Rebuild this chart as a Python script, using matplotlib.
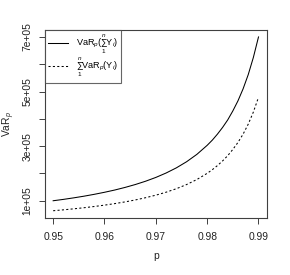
import numpy as np
import matplotlib
matplotlib.use('Agg')
import matplotlib.pyplot as plt

plt.rcParams['font.family'] = ['Liberation Sans', 'DejaVu Sans']
plt.rcParams['mathtext.fontset'] = 'custom'
plt.rcParams['mathtext.rm'] = 'Liberation Sans'
plt.rcParams['mathtext.it'] = 'Liberation Sans:italic'
plt.rcParams['mathtext.sf'] = 'Liberation Sans'

# values
p = [0.950, 0.952, 0.954, 0.956, 0.958, 0.960, 0.962, 0.964, 0.966, 0.968,
     0.970, 0.972, 0.974, 0.976, 0.978, 0.980, 0.981, 0.982, 0.983, 0.984,
     0.985, 0.986, 0.987, 0.988, 0.989, 0.990]
var_sum = [1.00, 1.05, 1.106, 1.167, 1.235, 1.31, 1.393, 1.488, 1.594, 1.715,
           1.854, 2.016, 2.205, 2.43, 2.70, 3.03, 3.22, 3.44, 3.685, 3.96,
           4.29, 4.66, 5.10, 5.62, 6.25, 7.00]
sum_var = [0.634, 0.667, 0.704, 0.744, 0.789, 0.839, 0.895, 0.958, 1.029, 1.111,
           1.204, 1.313, 1.441, 1.594, 1.778, 2.004, 2.137, 2.288, 2.458, 2.651,
           2.88, 3.137, 3.44, 3.806, 4.25, 4.79]

p = np.array(p)
var_sum = np.array(var_sum) * 1e5
sum_var = np.array(sum_var) * 1e5

x_ticks = [0.95, 0.96, 0.97, 0.98, 0.99]
y_ticks = [1e5, 2e5, 3e5, 4e5, 5e5, 6e5, 7e5]
y_labels = ['1e+05', '', '3e+05', '', '5e+05', '', '7e+05']

fig = plt.figure(figsize=(2.9, 2.75), dpi=100)
ax = fig.add_axes([0.155, 0.2084, 0.7647, 0.6825])

ax.plot(p, var_sum, color='black', lw=0.75,
        label=r'VaR$_p$($\sum_1^n$Y$_i$)')
ax.plot(p, sum_var, color='black', lw=0.75, linestyle=(0, (2, 2.2)),
        label=r'$\sum_1^n$VaR$_p$(Y$_i$)')

xr = p.max() - p.min()
yr = var_sum.max() - sum_var.min()
ax.set_xlim(p.min() - 0.04 * xr, p.max() + 0.04 * xr)
ax.set_ylim(sum_var.min() - 0.04 * yr, var_sum.max() + 0.04 * yr)

ax.set_xticks(x_ticks)
ax.set_xticklabels(['0.95', '0.96', '0.97', '0.98', '0.99'])
ax.set_yticks(y_ticks)
ax.set_yticklabels(y_labels, rotation=90, va='center')

for s in ax.spines.values():
    s.set_color('#404040')
    s.set_linewidth(0.8)
ax.tick_params(length=4, width=0.7, color='#404040', labelsize=7.4, labelcolor='#222222')
ax.tick_params(axis='x', pad=6)
ax.tick_params(axis='y', pad=5)

ax.set_xlabel('p', fontsize=7.4, color='#222222')
ax.xaxis.set_label_coords(0.5, -0.18)
ax.set_ylabel(r'VaR$_p$', fontsize=7.4, color='#222222')
ax.yaxis.set_label_coords(-0.125, 0.5)

leg = ax.legend(loc='upper left', fontsize=6.6, frameon=True, fancybox=False,
                borderaxespad=0, handlelength=2.2, handletextpad=0.8,
                borderpad=0.35, labelspacing=0.0)
leg.get_frame().set_edgecolor('#404040')
leg.get_frame().set_linewidth(0.8)

fig.savefig('out.png', dpi=100)
